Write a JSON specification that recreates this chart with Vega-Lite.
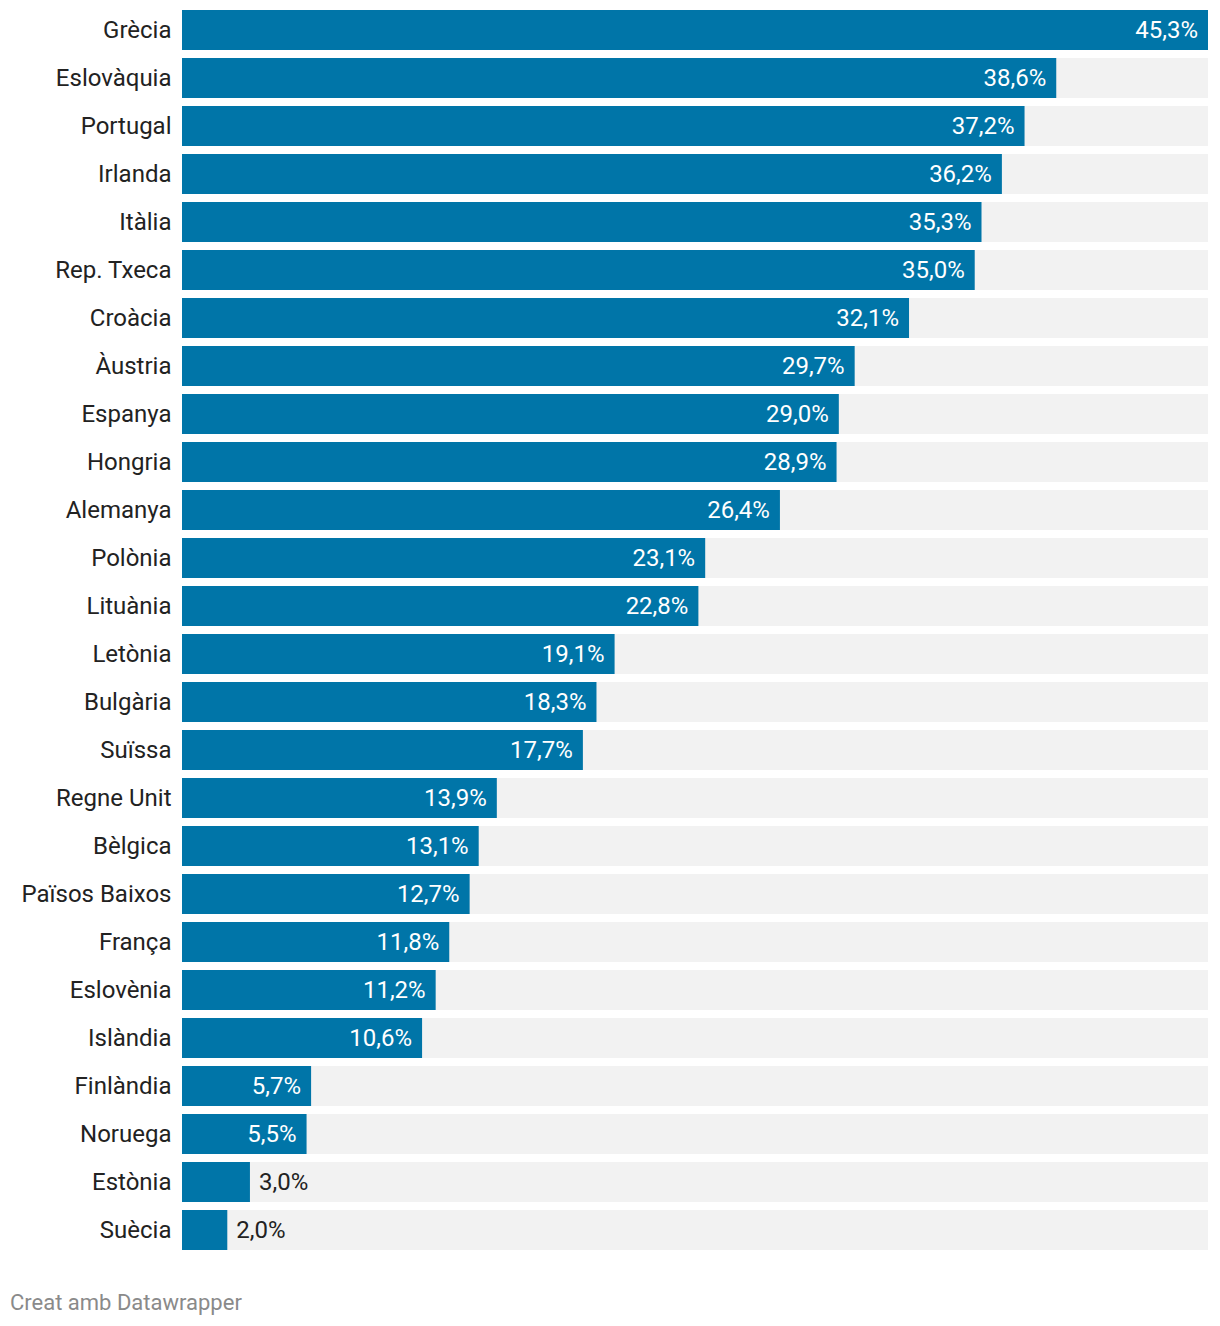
{
  "$schema": "https://vega.github.io/schema/vega-lite/v6.json",
  "width": 1026,
  "height": 1248,
  "autosize": {"type": "none"},
  "padding": {"left": 182, "top": 6, "right": 12, "bottom": 72},
  "background": "#ffffff",
  "config": {
    "view": {"stroke": null},
    "font": "Roboto",
    "locale": {"number": {"decimal": ",", "thousands": ".", "grouping": [3], "currency": ["", " €"]}}
  },
  "title": {
    "text": "Creat amb Datawrapper",
    "orient": "bottom",
    "anchor": "start",
    "frame": "group",
    "dx": -172,
    "offset": 39,
    "fontSize": 22,
    "fontWeight": "normal",
    "color": "#8a8a8a",
    "font": "Roboto"
  },
  "data": {
    "values": [
      {"country": "Grècia", "share": 0.453},
      {"country": "Eslovàquia", "share": 0.386},
      {"country": "Portugal", "share": 0.372},
      {"country": "Irlanda", "share": 0.362},
      {"country": "Itàlia", "share": 0.353},
      {"country": "Rep. Txeca", "share": 0.350},
      {"country": "Croàcia", "share": 0.321},
      {"country": "Àustria", "share": 0.297},
      {"country": "Espanya", "share": 0.290},
      {"country": "Hongria", "share": 0.289},
      {"country": "Alemanya", "share": 0.264},
      {"country": "Polònia", "share": 0.231},
      {"country": "Lituània", "share": 0.228},
      {"country": "Letònia", "share": 0.191},
      {"country": "Bulgària", "share": 0.183},
      {"country": "Suïssa", "share": 0.177},
      {"country": "Regne Unit", "share": 0.139},
      {"country": "Bèlgica", "share": 0.131},
      {"country": "Països Baixos", "share": 0.127},
      {"country": "França", "share": 0.118},
      {"country": "Eslovènia", "share": 0.112},
      {"country": "Islàndia", "share": 0.106},
      {"country": "Finlàndia", "share": 0.057},
      {"country": "Noruega", "share": 0.055},
      {"country": "Estònia", "share": 0.030},
      {"country": "Suècia", "share": 0.020}
    ]
  },
  "encoding": {
    "y": {
      "field": "country",
      "type": "nominal",
      "sort": null,
      "scale": {"paddingInner": 0.1667, "paddingOuter": 0.0833},
      "axis": {
        "title": null,
        "domain": false,
        "ticks": false,
        "labelPadding": 11,
        "labelOffset": 1,
        "labelFontSize": 24,
        "labelColor": "#222222",
        "labelFont": "Roboto"
      }
    }
  },
  "layer": [
    {
      "mark": {"type": "bar", "color": "#f2f2f2"},
      "encoding": {
        "x": {"datum": 0.453, "type": "quantitative", "scale": {"domain": [0, 0.453], "nice": false, "zero": true}, "axis": null}
      }
    },
    {
      "mark": {"type": "bar", "color": "#0075a8"},
      "encoding": {
        "x": {"field": "share", "type": "quantitative", "scale": {"domain": [0, 0.453], "nice": false}, "axis": null}
      }
    },
    {
      "transform": [{"filter": "datum.share >= 0.05"}],
      "mark": {"type": "text", "align": "right", "baseline": "middle", "dx": -10, "dy": 1, "fontSize": 24, "color": "#ffffff", "font": "Roboto"},
      "encoding": {
        "x": {"field": "share", "type": "quantitative"},
        "text": {"field": "share", "type": "quantitative", "format": ".1%"}
      }
    },
    {
      "transform": [{"filter": "datum.share < 0.05"}],
      "mark": {"type": "text", "align": "left", "baseline": "middle", "dx": 9, "dy": 1, "fontSize": 24, "color": "#222222", "font": "Roboto"},
      "encoding": {
        "x": {"field": "share", "type": "quantitative"},
        "text": {"field": "share", "type": "quantitative", "format": ".1%"}
      }
    }
  ]
}
